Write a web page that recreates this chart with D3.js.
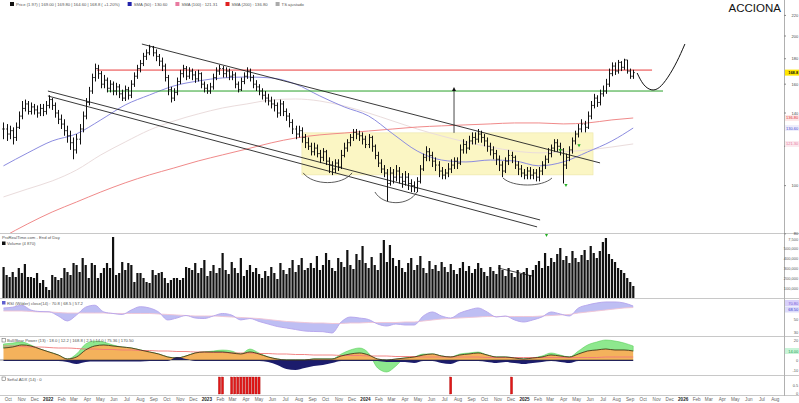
<!DOCTYPE html>
<html><head><meta charset="utf-8">
<script src="https://cdn.jsdelivr.net/npm/d3@7"></script>
<style>
body{margin:0;background:#fff}
svg{display:block;font-family:"Liberation Sans",Arial,sans-serif}
</style>
</head><body>
<svg id="c" width="799" height="403"></svg>
<script>
// ---------------- DATA ----------------
const startWeek = "2021-09-20";
const closes = [130,127,129,125,131,138,143,146,141,144,142,140,143,141,145,149,145,140,136,133,129,126,122,118,124,130,138,147,155,165,172,168,160,163,157,160,155,158,153,150,156,152,160,166,172,176,182,185,190,185,182,178,174,165,156,150,154,162,168,172,166,170,167,164,168,160,157,155,158,165,170,172,168,170,166,167,160,156,162,166,170,165,160,158,155,152,150,148,146,145,140,146,141,138,134,130,127,129,125,122,120,117,119,116,114,117,112,110,108,111,109,115,119,122,125,128,127,126,124,121,125,120,115,111,108,106,101,106,104,107,104,102,104,101,100,99,102,108,114,117,115,112,110,107,105,106,108,110,112,111,118,121,119,123,125,124,127,125,123,120,118,116,113,110,107,112,115,114,110,108,106,105,107,105,106,104,107,110,113,116,119,122,120,118,110,114,118,123,127,130,133,131,138,145,150,147,153,155,160,168,174,170,177,173,179,170,166,168.8];
const highs = [134,133,132,131,134,141,148,149,148,147,146,145,146,146,148,152,150,147,142,139,136,132,129,125,127,133,141,150,158,168,176,175,170,167,165,163,162,161,160,156,159,158,163,169,175,179,185,188,192,191,188,184,181,176,167,158,157,165,171,175,174,173,172,170,171,169,162,160,161,168,173,175,174,173,172,170,169,162,165,169,173,172,167,163,160,157,155,153,151,149,147,149,148,143,140,136,132,132,131,127,125,122,122,121,118,119,118,114,112,113,113,118,122,124,127,130,130,129,128,126,127,126,121,117,113,110,108,109,108,110,109,106,107,106,103,102,104,110,116,120,119,117,114,112,109,108,111,113,114,114,121,124,123,126,128,128,130,129,127,125,122,120,118,115,112,114,118,117,115,112,110,108,109,109,108,108,109,112,115,119,121,124,124,122,119,116,120,125,129,133,136,135,141,148,153,152,156,159,164,172,177,177,179,178,180,179,172,171];
const lows = [124,123,124,121,123,130,136,141,139,139,139,137,138,138,139,143,142,137,133,130,126,122,118,113,116,121,128,136,145,153,162,164,157,157,154,154,152,152,150,148,148,149,150,158,164,169,174,179,183,182,178,174,170,162,152,147,148,152,160,165,163,164,163,161,162,157,154,153,153,156,163,167,165,165,163,163,157,154,155,160,164,162,157,155,152,149,147,145,143,141,137,138,138,135,131,127,124,125,122,119,118,115,115,114,111,112,110,106,105,106,107,108,114,117,120,123,124,123,121,119,119,117,113,109,106,104,93,100,101,102,101,99,100,98,97,97,97,101,107,112,112,109,107,104,103,103,104,106,108,108,110,116,116,118,121,121,122,122,120,117,115,113,110,107,104,106,110,111,108,105,104,103,103,103,103,102,102,105,108,111,114,117,117,115,101,108,112,116,121,125,128,128,130,136,143,144,145,151,153,158,166,167,168,170,171,168,164,164];
// weekly volume, thousands of shares
const volumes = [310,230,210,260,210,300,250,340,210,210,200,250,150,180,110,80,230,210,180,200,300,260,230,350,330,260,400,330,200,350,330,200,250,300,350,300,610,230,250,360,280,350,330,160,250,250,200,160,150,280,230,250,260,200,150,180,200,200,180,200,310,300,
280,350,250,300,380,220,270,330,250,300,450,280,240,360,300,250,400,220,280,330,260,300,240,200,270,220,310,250,190,350,280,240,300,380,260,330,400,280,300,
350,300,420,280,330,450,380,300,270,400,360,310,480,330,290,440,380,520,350,300,410,330,280,450,580,360,530,400,320,380,
300,260,350,400,280,330,420,300,250,370,290,330,270,360,310,260,340,280,240,300,360,270,320,250,290,350,300,260,220,310,270,240,330,280,220,300,250,210,280,240,
260,300,230,280,330,370,300,450,320,400,360,440,500,380,420,350,470,400,360,430,480,380,520,450,400,470,560,600,440,390,360,300,280,250,200,160,120];
// moving averages, read every 8 weeks (week index)
const maIdx = [0,8,16,24,32,40,48,56,64,72,80,88,96,104,112,120,128,136,144,152,160,168,176,184,192,200,207];
const sma50  = [109.6,116.4,123.0,127.1,135.6,145.3,152.2,158.7,162.4,164.7,165.4,164.7,160.1,151.5,144.0,138.1,127.1,117.4,112.6,111.6,112.6,112.1,109.6,111.6,116.9,123.0,130.6];
const sma200 = [78.9,83.8,88.5,92.7,97.1,101.3,105.1,108.5,112.1,115.3,118.5,121.9,124.7,126.5,127.6,128.8,130.0,131.2,131.9,132.5,133.1,133.7,133.7,133.1,133.7,135.6,136.8];
const sma100 = [94.9,98.5,102.2,107.5,115.3,122.4,129.4,134.9,139.4,143.3,146.0,148.7,149.4,148.0,144.6,140.0,134.9,130.0,125.9,122.4,119.6,117.4,116.4,116.9,118.0,119.6,121.3];
// indicators, read every 3 weeks
const indStep = 3;
const rsi    = [67.8,69,72,64.7,62.4,62,55.6,48,57,69,72,61.7,59.4,57.9,64.7,69.8,67.8,61.7,49.5,52.5,56.3,52.5,51.7,55.6,59.4,57,49.5,51.7,47.2,43.3,39.5,37.2,34.9,32.6,31.9,31.6,29.6,46.4,54,52.5,50.2,43.3,40.3,43.3,41.8,41.8,55.6,61.7,55.6,52.5,60.1,64.7,67.8,61.7,54,55.6,49.5,46.4,49.5,54,61.7,58.7,55.6,67.8,72.4,75.4,77,77,75.4,70.8];
const rsiSig = [63.2,63.2,63.2,62.4,61.7,61.7,60.9,60.1,60.1,60.1,60.1,60.1,59.4,59.4,59.4,59.4,59.4,58.6,57.9,57.1,56.3,55.6,55.6,55.6,54.8,54,53.3,52.5,51.7,50.2,48.7,47.2,46.4,45.6,44.9,44.9,44.1,44.1,44.9,44.9,45.6,45.6,45.6,45.6,46.4,46.4,47.9,49.4,51,51.7,52.5,53.3,54,54.8,54.8,54.8,54.8,54.8,54.8,55.6,56.3,57.1,57.9,60.1,61.7,63.2,64.7,66.3,67.8,68.5];
const bullLine = [12,13,15,14,11,8,5,1,3,10,14,15,14,13,12,10,8,6,3,2,4,7,8,8,8,7,6,8,6,3,1,0,0,0,1,1,1,4,6,7,5,1,0,1,2,3,5,6,4,3,5,6,7,5,3,3,2,1,2,3,5,4,3,6,9,10,11,10,10,9];
const fastLine = [16,17,18,15,11,8,5,1,6,16,19,18,15,13,12,10,8,6,3,2,4,7,8,9,10,9,6,11,7,3,1,0,0,0,1,1,1,6,10,12,7,-8,-12,-6,2,3,6,6,4,3,6,7,8,5,3,3,2,1,2,4,7,5,3,9,15,18,20,19,17,14];
const bearLine = [-1,-1,-1,-1,-1,-1,-1,-2,-4,-2,-1.5,-1.5,-1.5,-1.5,-1.5,-1.5,-1,-1,-1,3,1,-1,-1,-1,-1,-1,-1,-1,-1,-2,-5,-9,-10,-8,-6,-5,-3,-1,-1,-1,-1,-1,-2,-2,-2,-3,-1,-1,-3,-4,-1,-1,-1,-2,-3,-2,-3,-4,-3,-2,-1,-2,-3,-1,-1,-1,-1,-1,-1,-1];
const slowLine = [14,14,13.5,13,13,12.5,12,12,11.5,11,11,10.5,10.5,10,10,9.5,9.5,9,9,8.5,8.5,8,8,7.5,7.5,7,7,7,6.5,6.5,6,6,5.5,5.5,5,5,5,4.5,4.5,4.5,4,4,4,3.5,3.5,3.5,3,3,3,3,3,3,3,2.5,2.5,2.5,2.5,2.5,2.5,2.5,2.5,2.5,2.5,2.5,2.5,2.5,3,3,3,3];
// signal weeks (week index where signal = 1)
const signalWeeks = [71,72,75,76,77,78,79,80,81,82,83,84,147,167];
// tick labels
const monthLabels = ["Jan","Feb","Mar","Apr","May","Jun","Jul","Aug","Sep","Oct","Nov","Dec"];
const priceTicks = [80,100,120,140,160,180,200,220];
const volTicks = [100,200,300,400,500];
const rsiTicks = [30,50];
const bbTicks = [-10,0,20];
// annotations in data units (week index, price)
const resistance = [{i0:30.7,i1:213.2,p:170.8,c:"#e83c3c"},{i0:34,i1:216.8,p:155.0,c:"#2aa02a"}];
const trendLines = [{i0:45.5,p0:192.7,i1:196.1,p1:111.1},{i0:14.6,p0:155.0,i1:176.4,p1:85.3},{i0:14.6,p0:151.5,i1:175.4,p1:82.6}];
const zone = {i0:98.1,i1:193.8,pTop:127.7,pBot:105.1};
const cups = [{i0:98.5,i1:114.6,pTop:106.1,pBot:101.3},{i0:122.1,i1:135.9,pTop:97.1,pBot:92.3},{i0:164.2,i1:180.3,pTop:103.6,pBot:100.2}];
const target = {i:148.1,p0:127.7,p1:157.9};
const projIdx = [208.3,210.2,212.9,215.5,218.4,221.4,224.0];
const projPrice = [168.5,159.3,155.0,156.4,164.7,177.2,192.7];
const greenMarks = [{i:184.9,p:99.8},{i:189.2,p:120.0},{i:183.0,p:117.4}];

// ---------------- SCALES ----------------
const svg = d3.select("#c");
const W = 799, plotR = 784;
const parse = d3.timeParse("%Y-%m-%d");
const t0 = parse(startWeek);
const dOf = i => new Date(t0.getTime() + i*7*864e5);
const x = d3.scaleTime().domain([parse("2021-09-12"), parse("2026-08-21")]).range([0, plotR]);
const xi = i => x(dOf(i));
const yP = d3.scaleLog().domain([80.3, 236.3]).range([233, 0]);
const yV = d3.scaleLinear().domain([0, 650]).range([298, 233]);
const yR = d3.scaleLinear().domain([25, 80]).range([336, 300]);
const yB = d3.scaleLinear().domain([-15, 24]).range([375, 336]);
const yS = d3.scaleLinear().domain([0, 1]).range([394, 377]);
const AX = W - 0.8;
const axFont = 4.0;

const defs = svg.append("defs");
function clip(id, y0, y1){ defs.append("clipPath").attr("id", id).append("rect").attr("x",0).attr("y",y0).attr("width",plotR).attr("height",y1-y0); }
clip("cp",10,233); clip("cv",233,298); clip("cr",299,336); clip("cb",337,375); clip("cs",376,395);

const bars = closes.map((c,i)=>({i, o: i? closes[i-1] : c, h: highs[i], l: lows[i], c, v: volumes[i]}));

// ---------------- PANEL FRAMES ----------------
[233.5,298.5,336.5,375.5,395.5].forEach(yy=>svg.append("line").attr("x1",0).attr("x2",W).attr("y1",yy).attr("y2",yy).attr("stroke","#c8c8c8").attr("stroke-width",1));
svg.append("line").attr("x1",plotR+0.5).attr("x2",plotR+0.5).attr("y1",0).attr("y2",396).attr("stroke","#b0b0b0");

function axText(yy, txt, fill, bold){
  return svg.append("text").attr("x",AX).attr("y",yy+1.5).attr("text-anchor","end").attr("font-size",axFont)
    .attr("font-weight",bold?"bold":"normal").attr("fill",fill||"#555").text(txt);
}
function axTag(yy, txt, bg, fg, bold){
  svg.append("rect").attr("x",plotR+1).attr("y",yy-3).attr("width",W-plotR-1).attr("height",6).attr("fill",bg);
  axText(yy, txt, fg, bold);
}

// ---------------- PRICE PANEL ----------------
const gp = svg.append("g").attr("clip-path","url(#cp)");
gp.append("rect").attr("x",xi(zone.i0)).attr("y",yP(zone.pTop)).attr("width",xi(zone.i1)-xi(zone.i0)).attr("height",yP(zone.pBot)-yP(zone.pTop))
  .attr("fill","#fbf6c4").attr("stroke","#ece6a8").attr("stroke-width",0.6);
const maLine = arr => d3.line().curve(d3.curveMonotoneX).x((d,k)=>xi(maIdx[k])).y(d=>yP(d))(arr);
gp.append("path").attr("d",maLine(sma100)).attr("fill","none").attr("stroke","#eadcdc").attr("stroke-width",1);
gp.append("path").attr("d",maLine(sma200)).attr("fill","none").attr("stroke","#f08a8a").attr("stroke-width",1);
gp.append("path").attr("d",maLine(sma50)).attr("fill","none").attr("stroke","#8c8ce0").attr("stroke-width",1);
resistance.forEach(r=>gp.append("line").attr("x1",xi(r.i0)).attr("x2",xi(r.i1)).attr("y1",yP(r.p)).attr("y2",yP(r.p)).attr("stroke",r.c).attr("stroke-width",1));
trendLines.forEach(t=>gp.append("line").attr("x1",xi(t.i0)).attr("y1",yP(t.p0)).attr("x2",xi(t.i1)).attr("y2",yP(t.p1)).attr("stroke","#222").attr("stroke-width",0.9));
cups.forEach(c=>{
  const xa=xi(c.i0), xb=xi(c.i1), ya=yP(c.pTop), yb=yP(c.pBot);
  const p=d3.path(); p.moveTo(xa,ya); p.bezierCurveTo(xa+(xb-xa)*0.2,yb+(yb-ya)*0.3, xb-(xb-xa)*0.2,yb+(yb-ya)*0.3, xb,ya);
  gp.append("path").attr("d",p.toString()).attr("fill","none").attr("stroke","#333").attr("stroke-width",0.8);
});
gp.append("line").attr("x1",xi(target.i)).attr("x2",xi(target.i)).attr("y1",yP(target.p0)).attr("y2",yP(target.p1)+3).attr("stroke","#333").attr("stroke-width",0.9);
gp.append("path").attr("d",`M${xi(target.i)-2},${yP(target.p1)+4}L${xi(target.i)},${yP(target.p1)}L${xi(target.i)+2},${yP(target.p1)+4}Z`).attr("fill","#111");
const ob = gp.append("g").attr("stroke","#111").attr("stroke-width",1).attr("fill","none");
bars.forEach(b=>{
  const cx=Math.round(xi(b.i))+0.5;
  ob.append("path").attr("d",`M${cx},${yP(b.h)}V${yP(b.l)}M${cx-1.2},${yP(b.o)}H${cx}M${cx},${yP(b.c)}H${cx+1.2}`);
});
gp.append("path").attr("d",d3.line().curve(d3.curveBasis).x((d,k)=>xi(projIdx[k])).y(d=>yP(d))(projPrice))
  .attr("fill","none").attr("stroke","#111").attr("stroke-width",1);
greenMarks.forEach(g=>{const cx=xi(g.i), cy=yP(g.p);
  gp.append("path").attr("d",`M${cx-1.6},${cy-2}L${cx+1.6},${cy-2}L${cx},${cy+1}Z`).attr("fill","#22b022");});

// price axis
priceTicks.forEach(t=>{
  svg.append("line").attr("x1",plotR).attr("x2",plotR+2).attr("y1",yP(t)).attr("y2",yP(t)).attr("stroke","#888");
  if (t!==120) axText(yP(t), t, "#444");
});
axTag(yP(sma100[sma100.length-1]), d3.format(".2f")(sma100[sma100.length-1]), "#fbe8ee", "#e87aa0");
axTag(yP(sma50[sma50.length-1]), d3.format(".2f")(sma50[sma50.length-1]), "#eeeefc", "#4848d0");
axTag(yP(sma200[sma200.length-1]), d3.format(".2f")(sma200[sma200.length-1]), "#fde8e8", "#e03030");
axTag(yP(closes[closes.length-1]), d3.format(".1f")(closes[closes.length-1]), "#ffe600", "#111", true);

// title
svg.append("text").attr("x",781).attr("y",12).attr("text-anchor","end").attr("font-size",11.5).attr("fill","#111").text("ACCIONA");

// header legend
const hdr = svg.append("g").attr("font-size",4.2).attr("fill","#555");
const hItems = [
  {c:"#111", t:"Price (1.97) | 169.00 | 169.80 | 164.60 | 168.8 ( +1.20%)"},
  {c:"#2222aa", t:"SMA (50) : 130.60"},
  {c:"#e87aa0", t:"SMA (100) : 121.31"},
  {c:"#e02020", t:"SMA (200) : 136.80"},
  {c:"#aaa", t:"TS ajustado"}
];
let hx = 10;
hItems.forEach(h=>{
  hdr.append("rect").attr("x",hx).attr("y",2).attr("width",4).attr("height",4).attr("fill",h.c);
  const tt = hdr.append("text").attr("x",hx+6).attr("y",5.8).text(h.t);
  hx += 8 + tt.node().getComputedTextLength() + 6;
});

// ---------------- VOLUME ----------------
const gv = svg.append("g").attr("clip-path","url(#cv)");
bars.forEach(b=>{ const cx=xi(b.i);
  gv.append("rect").attr("x",cx-1).attr("y",yV(b.v)).attr("width",2.2).attr("height",yV(0)-yV(b.v)).attr("fill","#111"); });
gv.append("line").attr("x1",xi(162.6)).attr("y1",yV(300)).attr("x2",xi(173.8)).attr("y2",yV(220)).attr("stroke","#111").attr("stroke-width",0.8);
gv.append("path").attr("d",`M${xi(178.5)-1.5},${yV(640)}L${xi(178.5)+1.5},${yV(640)}L${xi(178.5)},${yV(610)}Z`).attr("fill","#22b022");
svg.append("text").attr("x",2).attr("y",239).attr("font-size",4.2).attr("fill","#555").text("ProRealTime.com - End of Day");
svg.append("rect").attr("x",2).attr("y",241.5).attr("width",3.5).attr("height",3.5).attr("fill","#111");
svg.append("text").attr("x",7).attr("y",245).attr("font-size",4.2).attr("fill","#555").text("Volume (4 870)");
volTicks.forEach(t=>axText(yV(t), d3.format(",")(t*1000)));
axText(239, "7,500");

// ---------------- RSI ----------------
const gr = svg.append("g").attr("clip-path","url(#cr)");
const ixs = rsi.map((d,k)=>xi(k*indStep));
gr.append("path").attr("d",d3.area().curve(d3.curveMonotoneX).x((d,k)=>ixs[k]).y0((d,k)=>yR(rsiSig[k])).y1(d=>yR(d))(rsi))
  .attr("fill","#aeaef0").attr("opacity",0.8);
gr.append("path").attr("d",d3.line().curve(d3.curveMonotoneX).x((d,k)=>ixs[k]).y(d=>yR(d))(rsiSig)).attr("fill","none").attr("stroke","#f0c4d4").attr("stroke-width",0.9);
gr.append("path").attr("d",d3.line().curve(d3.curveMonotoneX).x((d,k)=>ixs[k]).y(d=>yR(d))(rsi)).attr("fill","none").attr("stroke","#b4a4ec").attr("stroke-width",0.9);
svg.append("rect").attr("x",2).attr("y",301).attr("width",3.5).attr("height",3.5).attr("fill","#6060d0");
svg.append("text").attr("x",7).attr("y",304.5).attr("font-size",4.2).attr("fill","#555").text("RSI (Wilder) close(14) : 70.8 | 68.5 | 57.2");
rsiTicks.forEach(t=>axText(yR(t), t));
axTag(303, d3.format(".2f")(rsi[rsi.length-1]), "#d8d0fa", "#7a5ad8");
axTag(309.5, d3.format(".2f")(rsiSig[rsiSig.length-1]), "#dcdcfa", "#3a3ad0");

// ---------------- BULL / BEAR PANEL ----------------
const gb = svg.append("g").attr("clip-path","url(#cb)");
const bx = (d,k)=>xi(k*indStep);
gb.append("path").attr("d",d3.area().curve(d3.curveMonotoneX).x(bx).y0((d,k)=>yB(bullLine[k])).y1(d=>yB(d))(fastLine)).attr("fill","#8ee88e").attr("stroke","#4cc84c").attr("stroke-width",0.5);
gb.append("path").attr("d",d3.area().curve(d3.curveMonotoneX).x(bx).y0(yB(0)).y1(d=>yB(d))(bullLine)).attr("fill","#f4b25c");
gb.append("path").attr("d",d3.area().curve(d3.curveMonotoneX).x(bx).y0(yB(0)).y1(d=>yB(d))(bearLine)).attr("fill","#1c1c6c");
gb.append("path").attr("d",d3.line().curve(d3.curveMonotoneX).x(bx).y(d=>yB(d))(slowLine)).attr("fill","none").attr("stroke","#f07878").attr("stroke-width",0.9);
gb.append("path").attr("d",d3.line().curve(d3.curveMonotoneX).x(bx).y(d=>yB(d))(bullLine)).attr("fill","none").attr("stroke","#3a2a10").attr("stroke-width",0.8);
gb.append("line").attr("x1",0).attr("x2",xi(207)).attr("y1",yB(0)).attr("y2",yB(0)).attr("stroke","#333").attr("stroke-width",0.6);
svg.append("rect").attr("x",2).attr("y",338.5).attr("width",3.5).attr("height",3.5).attr("fill","none").attr("stroke","#555").attr("stroke-width",0.5);
svg.append("text").attr("x",7).attr("y",342).attr("font-size",4.2).attr("fill","#555").text("Bull/Bear Power (13) : 18.0 | 12.2 | 168.8 | 2.5 | 14.0 | 75.36 | 170.50");
bbTicks.forEach(t=>axText(yB(t), t));
axTag(yB(9), "14.00", "#c8f4d8", "#20a050");

// ---------------- SIGNAL PANEL ----------------
const gs = svg.append("g").attr("clip-path","url(#cs)");
signalWeeks.forEach(i=>gs.append("rect").attr("x",xi(i)-1.1).attr("y",yS(1)).attr("width",2.2).attr("height",yS(0)-yS(1)).attr("fill","#e01818").attr("stroke","#a00000").attr("stroke-width",0.3));
svg.append("rect").attr("x",2).attr("y",377).attr("width",3.5).attr("height",3.5).attr("fill","none").attr("stroke","#555").attr("stroke-width",0.5);
svg.append("text").attr("x",7).attr("y",380.5).attr("font-size",4.2).attr("fill","#555").text("Señal ADX (14) : 0");
axText(yS(0.5), "0.5"); axText(yS(0)-1, "0");

// ---------------- X AXIS ----------------
const months = d3.timeMonth.range(x.domain()[0], x.domain()[1]);
const gx = svg.append("g").attr("font-size",4.6).attr("text-anchor","middle");
months.forEach(m=>{
  const isY = m.getMonth()===0;
  gx.append("text").attr("x",x(m)).attr("y",401).attr("fill",isY?"#222":"#666").attr("font-weight",isY?"bold":"normal")
    .text(isY ? m.getFullYear() : monthLabels[m.getMonth()]);
});
</script>
</body></html>
